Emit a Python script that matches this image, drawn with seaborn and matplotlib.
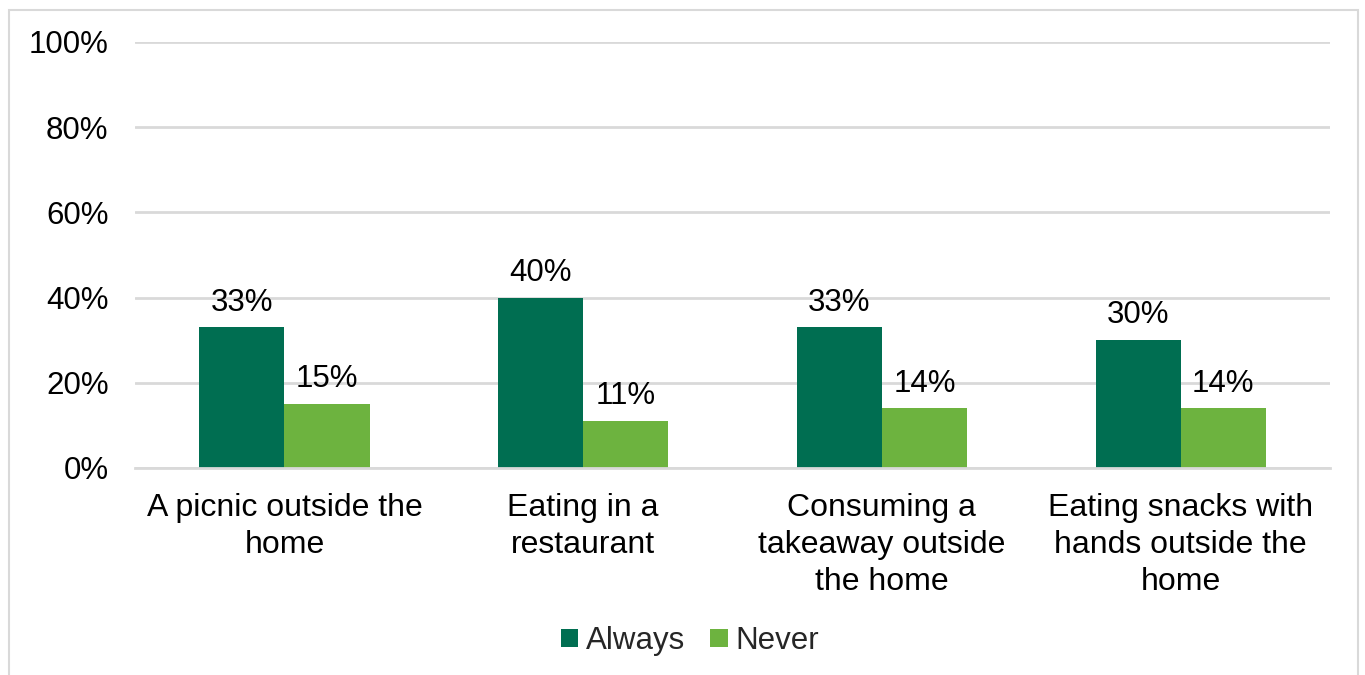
import matplotlib
matplotlib.use("Agg")
import matplotlib.pyplot as plt
import matplotlib.patches as mpatches
import seaborn as sns
import pandas as pd

categories = ["A picnic outside the\nhome", "Eating in a\nrestaurant",
              "Consuming a\ntakeaway outside\nthe home",
              "Eating snacks with\nhands outside the\nhome"]
always = [33, 40, 33, 30]
never = [15, 11, 14, 14]
series = ["Always", "Never"]
colors = ["#006E51", "#6DB33F"]
yticks = [0, 20, 40, 60, 80, 100]

df = pd.DataFrame({
    "cat": categories * 2,
    "val": always + never,
    "series": [series[0]] * 4 + [series[1]] * 4,
})

sns.set_theme(style="white")
plt.rcParams["font.family"] = ["Liberation Sans", "DejaVu Sans"]
FS = 22.5

fig = plt.figure(figsize=(13.65, 6.75), dpi=100)
ax = fig.add_axes([0.0989, 0.3067, 0.8755, 0.6311])

sns.barplot(data=df, x="cat", y="val", hue="series", palette=colors,
            width=0.57, ax=ax, saturation=1, edgecolor="none", legend=True)

for cont in ax.containers:
    ax.bar_label(cont, labels=[f"{v:.0f}%" for v in cont.datavalues],
                 padding=7, fontsize=FS, color="#000000")

ax.set_ylim(0, 100)
ax.set_xlim(-0.5, 3.5)
ax.set_yticks(yticks)
ax.set_yticklabels([f"{t}%" for t in yticks], fontsize=FS, color="#000000")
ax.set_xticklabels(categories, fontsize=23, color="#000000", linespacing=1.3)
ax.set_xlabel("")
ax.set_ylabel("")
ax.tick_params(axis="both", length=0)
ax.tick_params(axis="y", pad=19)
ax.tick_params(axis="x", pad=18)
ax.yaxis.grid(True, color="#D9D9D9", linewidth=2)
ax.set_axisbelow(True)
for s in ["left", "right", "top"]:
    ax.spines[s].set_visible(False)
ax.spines["bottom"].set_color("#D9D9D9")
ax.spines["bottom"].set_linewidth(2)

leg = ax.legend(loc="center", ncol=2, frameon=False, fontsize=FS,
                handlelength=0.55, handleheight=0.55,
                handletextpad=0.25, columnspacing=0.8)
leg.set_bbox_to_anchor((690 / 1365, 1 - 641 / 675), transform=fig.transFigure)

border = mpatches.Rectangle((9 / 1365, -0.02), (1358 - 9) / 1365, 1 - 10 / 675 + 0.02,
                            transform=fig.transFigure, fill=False,
                            edgecolor="#D9D9D9", linewidth=1.5)
fig.patches.append(border)

fig.savefig("out.png", dpi=100, facecolor="white")
